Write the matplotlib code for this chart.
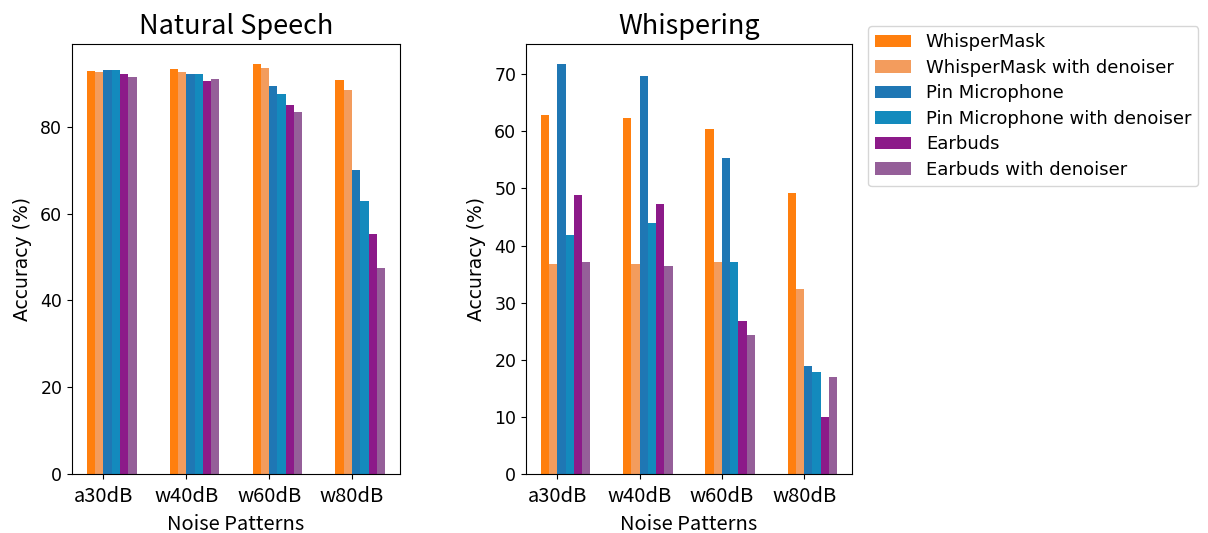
import numpy as np
import matplotlib
matplotlib.use('Agg')
import matplotlib.pyplot as plt

# noise conditions on the x axis
patterns = ['a30dB', 'w40dB', 'w60dB', 'w80dB']
devices = ['WhisperMask', 'WhisperMask with denoiser', 'Pin Microphone',
           'Pin Microphone with denoiser', 'Earbuds', 'Earbuds with denoiser']
colors = ['#ff7f0e', '#f39c5d', '#1f77b4', '#138abd', '#8c1a89', '#955f99']

# accuracy (%) for natural speech, one list per device
natural_mask = [92.9, 93.3, 94.4, 90.9]
natural_mask_dn = [92.6, 92.7, 93.6, 88.6]
natural_pin = [93.2, 92.3, 89.5, 70.0]
natural_pin_dn = [93.1, 92.3, 87.5, 63.0]
natural_ear = [92.1, 90.7, 85.1, 55.3]
natural_ear_dn = [91.6, 91.0, 83.5, 47.4]

# accuracy (%) for whispering
whisper_mask = [62.9, 62.4, 60.4, 49.2]
whisper_mask_dn = [36.8, 36.8, 37.1, 32.4]
whisper_pin = [71.7, 69.6, 55.3, 18.9]
whisper_pin_dn = [41.8, 43.9, 37.2, 17.8]
whisper_ear = [48.9, 47.3, 26.7, 10.0]
whisper_ear_dn = [37.2, 36.5, 24.4, 16.9]

natural = [natural_mask, natural_mask_dn, natural_pin, natural_pin_dn, natural_ear, natural_ear_dn]
whisper = [whisper_mask, whisper_mask_dn, whisper_pin, whisper_pin_dn, whisper_ear, whisper_ear_dn]

jp = ['Noto Sans CJK JP', 'DejaVu Sans']
width = 0.1
x = np.arange(len(patterns))

fig = plt.figure(figsize=(12.08, 5.33), dpi=100)
ax1 = fig.add_axes([72 / 1208, 59 / 533, 328 / 1208, 430 / 533])
ax2 = fig.add_axes([526 / 1208, 59 / 533, 326 / 1208, 430 / 533])

for ax, data, title in [(ax1, natural, 'Natural Speech'), (ax2, whisper, 'Whispering')]:
    for i, (vals, c, name) in enumerate(zip(data, colors, devices)):
        ax.bar(x + (i - 1.5) * width, vals, width, color=c, label=name)
    ax.set_title(title, fontsize=19.5, family=jp, pad=7)
    ax.set_xticks(x)
    ax.set_xticklabels(patterns, fontsize=14.5, family=jp)
    ax.tick_params(axis='y', labelsize=12.5)
    ax.tick_params(axis='x', pad=5)
    ax.set_xlabel('Noise Patterns', fontsize=14.5, family=jp, labelpad=5)
    ax.set_ylabel('Accuracy (%)', fontsize=13.5, labelpad=6)

ax2.legend(loc='upper left', bbox_to_anchor=(1.049, 1.042), fontsize=13,
           handlelength=2.0, labelspacing=0.42, borderaxespad=0)

fig.savefig('out.png', dpi=100)
